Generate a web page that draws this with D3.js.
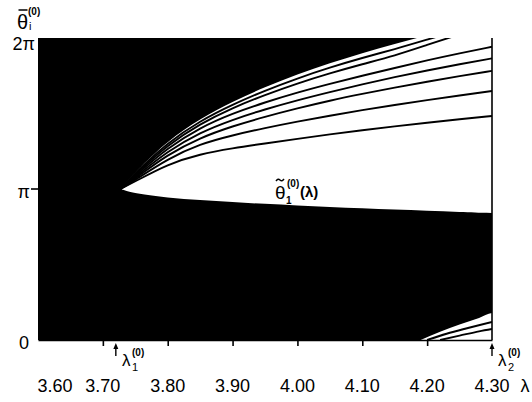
<!DOCTYPE html>
<html><head><meta charset="utf-8">
<script src="https://cdn.jsdelivr.net/npm/d3@7"></script>
<style>
body{margin:0;background:#fff;}
text{font-family:"Liberation Sans",Arial,sans-serif;fill:#000;}
</style></head>
<body><svg id="c" width="532" height="402"></svg>
<script>
// ---- data (λ, θ in radians) ----
const xTickValues = [3.70, 3.80, 3.90, 4.00, 4.10, 4.20];
const xLabels = ["3.60","3.70","3.80","3.90","4.00","4.10","4.20","4.30"];
const xLabelValues = [3.60,3.70,3.80,3.90,4.00,4.10,4.20,4.30];
const yLabels = ["0","π","2π"];
const yLabelValues = [0, Math.PI, 2*Math.PI];

const lambdaGrid = [3.727, 3.75, 3.80, 3.85, 3.90, 3.95, 4.00, 4.05, 4.10, 4.15, 4.20, 4.25, 4.30];
const theta1Lower = [3.142, 3.045, 2.962, 2.910, 2.868, 2.832, 2.798, 2.768, 2.740, 2.713, 2.688, 2.665, 2.642];
const line1 = [3.142, 3.30, 3.66, 3.87, 3.990, 4.090, 4.186, 4.279, 4.365, 4.446, 4.521, 4.593, 4.661];
const line2 = [3.142, 3.33, 3.77, 4.08, 4.260, 4.410, 4.544, 4.668, 4.783, 4.892, 4.992, 5.089, 5.180];
const line3 = [3.142, 3.36, 3.86, 4.21, 4.450, 4.645, 4.820, 4.982, 5.121, 5.252, 5.373, 5.490, 5.600];
const line4 = [3.142, 3.39, 3.93, 4.32, 4.585, 4.800, 4.990, 5.160, 5.320, 5.470, 5.609, 5.738, 5.860];
const line5 = [3.142, 3.42, 4.00, 4.42, 4.715, 4.945, 5.150, 5.330, 5.500, 5.660, 5.820, 5.967, 6.100];
const line6Lambda = [3.727, 3.75, 3.80, 3.85, 3.90, 3.95, 4.00, 4.05, 4.10, 4.15, 4.20, 4.25, 4.30];
const line6 = [3.142, 3.45, 4.06, 4.50, 4.830, 5.100, 5.340, 5.550, 5.740, 5.915, 6.140, 6.360, 6.560];
const line7Lambda = [3.727, 3.75, 3.80, 3.85, 3.90, 3.95, 4.00, 4.05, 4.10, 4.15, 4.20, 4.25, 4.30];
const line7 = [3.142, 3.48, 4.11, 4.56, 4.900, 5.190, 5.445, 5.670, 5.870, 6.050, 6.250, 6.450, 6.650];
const edgeLambda = [3.727, 3.75, 3.80, 3.85, 3.90, 3.95, 4.00, 4.05, 4.10, 4.15, 4.20, 4.25, 4.30];
const edgeUpper = [3.142, 3.50, 4.15, 4.60, 4.960, 5.265, 5.530, 5.760, 5.970, 6.160, 6.340, 6.520, 6.700];

const wedgeLambda = [4.19, 4.22, 4.25, 4.28, 4.30];
const wedgeUpper = [0.0, 0.17, 0.32, 0.46, 0.56];
const m1Lambda = [4.20, 4.23, 4.26, 4.30];
const m1 = [0.0, 0.13, 0.24, 0.374];
const m2Lambda = [4.22, 4.25, 4.28, 4.30];
const m2 = [0.0, 0.09, 0.18, 0.229];

const lambda1 = 3.72, lambda2 = 4.30;

// ---- drawing ----
const svg = d3.select("#c");
const x = d3.scaleLinear().domain([3.60, 4.30]).range([38, 492]);
const y = d3.scaleLinear().domain([0, 2*Math.PI]).range([340, 38]);

svg.append("defs").append("clipPath").attr("id","clip")
  .append("rect").attr("x",x(3.60)).attr("y",y(2*Math.PI))
  .attr("width",x(4.30)-x(3.60)).attr("height",y(0)-y(2*Math.PI));

const g = svg.append("g").attr("clip-path","url(#clip)");
g.append("rect").attr("x",x(3.60)).attr("y",y(2*Math.PI))
  .attr("width",x(4.30)-x(3.60)).attr("height",y(0)-y(2*Math.PI)).attr("fill","#000");

const curve = d3.curveBasis;
const lineGen = d3.line().x(d=>x(d[0])).y(d=>y(d[1])).curve(curve);

// white region between θ1 lower curve and black edge
const lowerPts = lambdaGrid.map((l,i)=>[l, theta1Lower[i]]);
const upperPts = edgeLambda.map((l,i)=>[l, edgeUpper[i]]);
const pathLower = lineGen(lowerPts);
const pathUpperRev = lineGen(upperPts.slice().reverse());
g.append("path")
  .attr("d", pathLower + "L" + x(4.35) + "," + y(theta1Lower[theta1Lower.length-1]) + "L" + x(4.35) + "," + y(7) + "L" + x(4.30) + "," + y(7) + "L" + pathUpperRev.slice(1) + "Z")
  .attr("fill","#fff");

// bottom-right wedge
const wPts = wedgeLambda.map((l,i)=>[l, wedgeUpper[i]]);
g.append("path")
  .attr("d", d3.area().x(d=>x(d[0])).y0(y(-0.1)).y1(d=>y(d[1])).curve(d3.curveMonotoneX)(wPts.concat([[4.35, 0.6]])))
  .attr("fill","#fff");

const fan = [
  [lambdaGrid, line1],[lambdaGrid, line2],[lambdaGrid, line3],[lambdaGrid, line4],[lambdaGrid, line5],
  [line6Lambda, line6],[line7Lambda, line7]
];
fan.forEach(([ls, ts])=>{
  g.append("path").attr("d", lineGen(ls.map((l,i)=>[l, ts[i]])))
    .attr("fill","none").attr("stroke","#000").attr("stroke-width",1.9);
});
[[m1Lambda, m1],[m2Lambda, m2]].forEach(([ls, ts])=>{
  g.append("path").attr("d", d3.line().x(d=>x(d[0])).y(d=>y(d[1])).curve(d3.curveMonotoneX)(ls.map((l,i)=>[l, ts[i]])))
    .attr("fill","none").attr("stroke","#000").attr("stroke-width",1.9);
});

// right border
svg.append("line").attr("x1",x(4.30)).attr("x2",x(4.30)).attr("y1",y(2*Math.PI)).attr("y2",y(0))
  .attr("stroke","#000").attr("stroke-width",1.6);

// bottom axis
const ax = svg.append("g").attr("transform",`translate(0,${y(0)})`)
  .call(d3.axisBottom(x).tickValues(xTickValues).tickSize(6).tickSizeOuter(0).tickFormat(""));
ax.select(".domain").attr("stroke","#000").attr("stroke-width",1.6);
ax.selectAll(".tick line").attr("stroke","#000").attr("stroke-width",1.6);

// left π tick
svg.append("line").attr("x1",x(3.60)-7).attr("x2",x(3.60)).attr("y1",y(Math.PI)).attr("y2",y(Math.PI))
  .attr("stroke","#000").attr("stroke-width",1.6);

// x labels
svg.selectAll("text.xl").data(xLabels).join("text").attr("class","xl")
  .attr("x",(d,i)=>x(xLabelValues[i]) + (i===0?17:0))
  .attr("y",392).attr("text-anchor","middle").attr("font-size",18).text(d=>d);
svg.append("text").attr("x",525).attr("y",392).attr("text-anchor","middle").attr("font-size",18).text("λ");

// y labels
svg.selectAll("text.yl").data(yLabels).join("text").attr("class","yl")
  .attr("x",(d,i)=> i===2 ? 35 : (i===1 ? 30 : 29))
  .attr("y",(d,i)=>y(yLabelValues[i]) + (i===2?12:9))
  .attr("text-anchor","end").attr("font-size",18).text(d=>d);

// y axis title θ̄_i^(0)
svg.append("text").attr("x",17).attr("y",29).attr("font-size",20).text("θ");
svg.append("line").attr("x1",18.5).attr("x2",27.5).attr("y1",10).attr("y2",10).attr("stroke","#000").attr("stroke-width",1.5);
svg.append("text").attr("x",28).attr("y",15).attr("font-size",10).attr("font-weight","bold").text("(0)");
svg.append("text").attr("x",29).attr("y",30).attr("font-size",11).text("i");

// λ1 and λ2 markers
function marker(lv, sub, lx){
  const xx = x(lv);
  svg.append("line").attr("x1",xx).attr("x2",xx).attr("y1",346).attr("y2",356).attr("stroke","#000").attr("stroke-width",1.4);
  svg.append("path").attr("d",`M${xx-2.5},${349}L${xx},${343}L${xx+2.5},${349}Z`).attr("fill","#000");
  svg.append("text").attr("x",lx).attr("y",366).attr("font-size",17).text("λ");
  svg.append("text").attr("x",lx+10).attr("y",356).attr("font-size",10).attr("font-weight","bold").text("(0)");
  svg.append("text").attr("x",lx+10).attr("y",371).attr("font-size",11).text(sub);
}
marker(lambda1, "1", 122);
marker(lambda2, "2", 498);

// curve label θ̃1(0)(λ)
const cl = svg.append("g");
cl.append("text").attr("x",275).attr("y",199).attr("font-size",19).text("θ");
cl.append("path").attr("d","M276,181 q2,-3 4,-1 t4,-1").attr("fill","none").attr("stroke","#000").attr("stroke-width",1.4);
cl.append("text").attr("x",287).attr("y",187).attr("font-size",10).attr("font-weight","bold").text("(0)");
cl.append("text").attr("x",286).attr("y",204).attr("font-size",10).attr("font-weight","bold").text("1");
cl.append("text").attr("x",300).attr("y",197).attr("font-size",15).attr("font-weight","bold").text("(λ)");
</script></body></html>
